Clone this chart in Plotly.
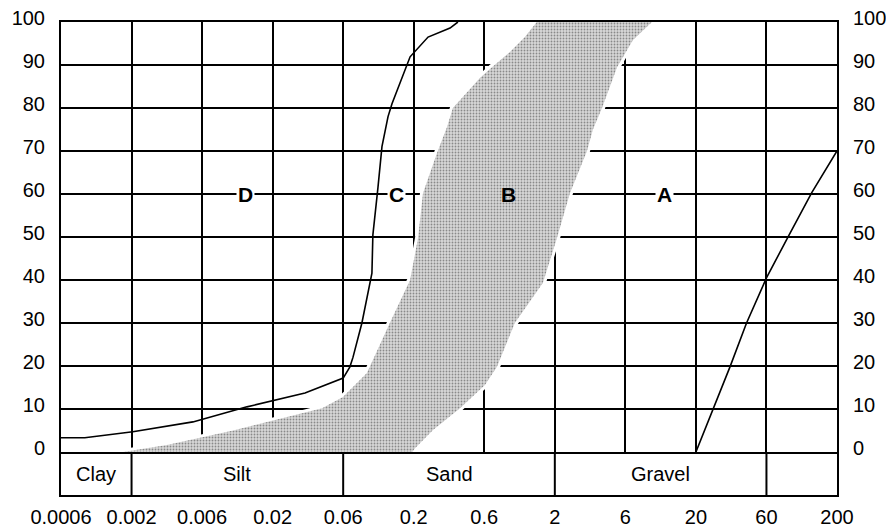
import numpy as np
import plotly.graph_objects as go

# ---- data ----
tick_sizes = [0.0006, 0.002, 0.006, 0.02, 0.06, 0.2, 0.6, 2, 6, 20, 60, 200]
tick_labels = ["0.0006", "0.002", "0.006", "0.02", "0.06", "0.2", "0.6", "2", "6", "20", "60", "200"]
pct_ticks = list(range(0, 101, 10))

class_names = ["Clay", "Silt", "Sand", "Gravel"]
class_bounds = [0.0006, 0.002, 0.06, 2, 60, 200]

# curve C (grain size mm, % passing)
c_size = [0.0006, 0.0009, 0.00204, 0.0052, 0.0129, 0.0331, 0.06, 0.0673, 0.0709,
          0.0826, 0.098, 0.0996, 0.1087, 0.1163, 0.129, 0.138, 0.188, 0.2, 0.25, 0.352, 0.398]
c_pass = [3.3, 3.3, 4.7, 7.0, 10.5, 13.7, 17.2, 19.8, 22, 30, 41.6, 50.5, 61.6, 71,
          78, 81, 91.9, 92.8, 96.5, 98.6, 100]

# curve A
a_size = [20, 34, 44, 60, 86, 130, 200]
a_pass = [0, 19.8, 30, 40.5, 49.8, 60.3, 70]

# envelope B: fine (upper-left) edge and coarse (lower-right) edge
b_fine_size = [0.00173, 0.00347, 0.0102, 0.0235, 0.0432, 0.0598, 0.090, 0.133, 0.188,
               0.214, 0.231, 0.287, 0.336, 0.368, 0.561, 0.684, 0.93, 1.2, 1.47]
b_fine_pass = [0, 1.6, 5, 8, 10.2, 12.8, 18.4, 30, 40, 49.8, 60.2, 69.5, 75.6, 80,
               87, 89.5, 93, 96.5, 100]
b_coarse_size = [0.195, 0.204, 0.270, 0.411, 0.607, 0.745, 1.01, 1.63, 2.07, 2.53,
                 3.30, 3.62, 4.17, 4.72, 5.27, 6.83, 9.45]
b_coarse_pass = [0, 0.9, 5.1, 10.2, 15.6, 19.8, 30, 39.3, 49.8, 60.2, 70, 75, 80,
                 85, 89.5, 95.8, 100]

zone_names = ["D", "C", "B", "A"]
zone_size = [0.0125, 0.15, 0.9, 11.8]
zone_pct = [60, 60, 60, 60]

FONT = "Liberation Sans"


def pos(sizes):
    """Place grain sizes on the chart's equally spaced size scale."""
    return np.interp(np.log10(np.asarray(sizes, dtype=float)),
                     np.log10(tick_sizes), np.arange(len(tick_sizes)))


fig = go.Figure()

# white halo around envelope B
for s, p in [(b_fine_size, b_fine_pass), (b_coarse_size, b_coarse_pass)]:
    fig.add_trace(go.Scatter(x=pos(s), y=p, mode="lines",
                             line=dict(color="white", width=6),
                             hoverinfo="skip", showlegend=False, xaxis="x", yaxis="y"))

# envelope B
bx = np.concatenate([pos(b_fine_size), pos(b_coarse_size)[::-1]])
by = list(b_fine_pass) + list(b_coarse_pass)[::-1]
fig.add_trace(go.Scatter(x=bx, y=by, mode="lines", fill="toself",
                         line=dict(width=0, color="rgba(0,0,0,0)"),
                         fillcolor="#c4c4c4",
                         fillpattern=dict(shape=".", size=3, solidity=0.3,
                                          fgcolor="#3a3a3a", bgcolor="#d8d8d8"),
                         hoverinfo="skip", showlegend=False, xaxis="x", yaxis="y"))

# curve C
fig.add_trace(go.Scatter(x=pos(c_size), y=c_pass, mode="lines",
                         line=dict(color="black", width=1.6),
                         showlegend=False, xaxis="x", yaxis="y"))
# curve A
fig.add_trace(go.Scatter(x=pos(a_size), y=a_pass, mode="lines",
                         line=dict(color="black", width=1.6),
                         showlegend=False, xaxis="x", yaxis="y"))

# invisible trace for the right-hand axis
fig.add_trace(go.Scatter(x=[0], y=[0], mode="markers", marker=dict(opacity=0),
                         hoverinfo="skip", showlegend=False, xaxis="x", yaxis="y3"))
# invisible trace for the band subplot
fig.add_trace(go.Scatter(x=[0], y=[0], mode="markers", marker=dict(opacity=0),
                         hoverinfo="skip", showlegend=False, xaxis="x2", yaxis="y2"))

# zone labels
for name, s, p in zip(zone_names, zone_size, zone_pct):
    fig.add_annotation(x=float(pos([s])[0]), y=p, xref="x", yref="y", text=f"<b>{name}</b>",
                       showarrow=False, font=dict(family=FONT, size=21, color="black"),
                       bgcolor="white" if name != "B" else "rgba(0,0,0,0)", borderpad=1)

# class band
cb = pos(class_bounds)
for b in cb[1:-1]:
    fig.add_shape(type="line", x0=b, x1=b, y0=0, y1=1, xref="x2", yref="y2",
                  line=dict(color="black", width=2))
for name, lo, hi in zip(class_names, cb[:-2], cb[1:-1]):
    fig.add_annotation(x=(lo + hi) / 2, y=0.5, xref="x2", yref="y2", text=name,
                       showarrow=False, font=dict(family=FONT, size=20, color="black"))

band_h = 43 / 473
line_common = dict(showline=True, linecolor="black", linewidth=2,
                   zeroline=False, ticks="", automargin=False)

# the page body has an 8px margin, so the figure is sized 8px smaller
fig.update_layout(
    width=886, height=523,
    margin=dict(l=53, r=57, t=14, b=36, autoexpand=False),
    paper_bgcolor="white", plot_bgcolor="white",
    font=dict(family=FONT, size=20, color="black"),
    showlegend=False,
    xaxis=dict(range=[0, 11], tickvals=list(range(12)), showticklabels=False,
               showgrid=True, gridcolor="black", gridwidth=2, anchor="y",
               domain=[0, 1], mirror=True, **line_common),
    yaxis=dict(range=[0, 100], tickvals=pct_ticks, showgrid=True, gridcolor="black",
               gridwidth=2, domain=[band_h, 1], anchor="x", ticklabelstandoff=10,
               ticklabelshift=-4, ticklabeloverflow="allow", mirror=True, **line_common),
    yaxis3=dict(range=[0, 100], tickvals=pct_ticks, overlaying="y", side="right",
                anchor="x", showgrid=False, zeroline=False, showline=False, ticks="",
                ticklabelstandoff=15, ticklabelshift=-4, ticklabeloverflow="allow",
                automargin=False),
    xaxis2=dict(range=[0, 11], tickvals=list(range(12)), ticktext=tick_labels,
                showgrid=False, anchor="y2", domain=[0, 1], ticklabelstandoff=3,
                ticklabeloverflow="allow", mirror=False, **line_common),
    yaxis2=dict(range=[0, 1], domain=[0, band_h], showgrid=False, showticklabels=False,
                anchor="x2", mirror=True, **line_common),
)

fig.write_html("out.html")
